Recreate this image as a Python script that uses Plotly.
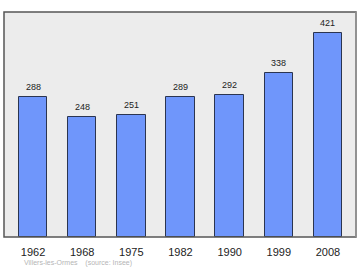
import plotly.graph_objects as go

years = ["1962", "1968", "1975", "1982", "1990", "1999", "2008"]
population = [288, 248, 251, 289, 292, 338, 421]
caption = "Villers-les-Ormes    (source: Insee)"

FONT = "Liberation Sans, Arial, sans-serif"
xs = list(range(len(years)))

fig = go.Figure()
fig.add_trace(go.Bar(
    x=xs, y=population,
    width=0.58,
    marker=dict(color="#6f96fb", line=dict(color="#2b3550", width=1)),
))
annotations = [
    dict(x=x, y=v, text=str(v), xref="x", yref="y", showarrow=False,
         yanchor="middle", yshift=10,
         font=dict(family=FONT, size=9, color="#222222"))
    for x, v in zip(xs, population)
]
annotations.append(dict(text=caption, xref="paper", yref="paper", x=0.05, y=-0.1156,
                        xanchor="left", yanchor="middle", showarrow=False,
                        font=dict(family=FONT, size=7, color="#b5b5b5")))
fig.update_layout(
    width=360, height=270,
    margin=dict(l=4, r=4, t=12, b=33),
    paper_bgcolor="white", plot_bgcolor="#ececec",
    showlegend=False, bargap=0,
    xaxis=dict(range=[-0.59, 6.57], tickmode="array",
               tickvals=xs, ticktext=years, ticklabelstandoff=7,
               showgrid=False, zeroline=False, ticks="", fixedrange=True,
               tickfont=dict(family=FONT, size=11, color="#222222")),
    yaxis=dict(range=[0, 464], showticklabels=False, showgrid=False,
               zeroline=False, ticks="", fixedrange=True),
    shapes=[
        dict(type="rect", xref="paper", yref="paper", x0=0, x1=1, y0=0, y1=1,
             line=dict(color="#555555", width=1.5)),
        dict(type="line", xref="paper", yref="paper", x0=1, x1=1, y0=0, y1=1,
             line=dict(color="#999999", width=1.5)),
    ],
    annotations=annotations,
)
fig.write_html("out.html")
